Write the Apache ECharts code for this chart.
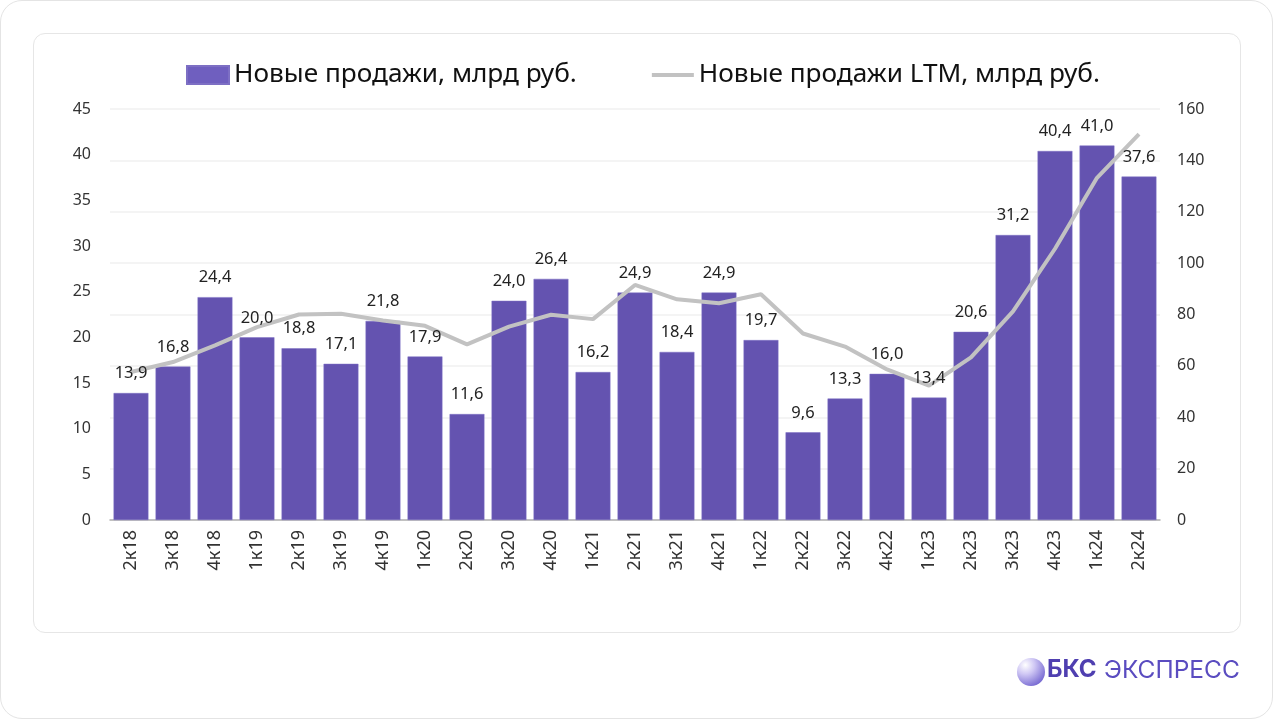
<!DOCTYPE html>
<html>
<head>
<meta charset="utf-8">
<script src="https://cdn.jsdelivr.net/npm/echarts@6/dist/echarts.min.js"></script>
<style>
  html,body{margin:0;padding:0;background:#fff;}
  #outer{position:absolute;left:0;top:0;width:1271px;height:717px;border:1px solid #e4e4e4;border-radius:22px;background:#fff;}
  #card{position:absolute;left:33px;top:33px;width:1206px;height:598px;border:1px solid #e6e6e6;border-radius:12px;background:#fff;}
  #chart{position:absolute;left:0;top:0;width:1273px;height:719px;}
</style>
</head>
<body>
<div id="outer"></div>
<div id="card"></div>
<div id="chart"></div>
<script>
const categories = ['2к18','3к18','4к18','1к19','2к19','3к19','4к19','1к20','2к20','3к20','4к20','1к21','2к21','3к21','4к21','1к22','2к22','3к22','4к22','1к23','2к23','3к23','4к23','1к24','2к24'];
const newSales = [13.9,16.8,24.4,20.0,18.8,17.1,21.8,17.9,11.6,24.0,26.4,16.2,24.9,18.4,24.9,19.7,9.6,13.3,16.0,13.4,20.6,31.2,40.4,41.0,37.6];
const newSalesLTM = [57.6,61.5,68.0,75.1,80.0,80.3,77.7,75.6,68.4,75.3,79.9,78.2,91.5,85.9,84.4,87.9,72.6,67.5,58.6,52.3,63.3,81.2,105.6,133.2,150.2];
const leftTicks = {min:0, max:45, interval:5};
const rightTicks = {min:0, max:160, interval:20};

const font = '"Noto Sans", "Open Sans", sans-serif';
const chart = echarts.init(document.getElementById('chart'), null, {renderer:'canvas'});
chart.setOption({
  animation:false,
  backgroundColor:'transparent',
  textStyle:{fontFamily:font},
  legend:{
    top:57, left:181,
    itemGap:75,
    textStyle:{fontSize:26.2, color:'#111', fontFamily:font},
    data:[
      {name:'Новые продажи, млрд руб.', icon:'rect', itemStyle:{color:'#6f5fbf'}},
      {name:'Новые продажи LTM, млрд руб.', icon:'path://M0,0 L40,0 L40,4 L0,4 Z', itemStyle:{color:'#c2c2c2'}}
    ],
    itemWidth:42, itemHeight:18
  },
  grid:{left:110, right:113, top:109, bottom:199, containLabel:false},
  xAxis:{
    type:'category', data:categories,
    axisLine:{lineStyle:{color:'#b0b0b0', width:1.5}},
    axisTick:{show:false},
    axisLabel:{rotate:90, fontSize:18, color:'#333', margin:10, fontFamily:font}
  },
  yAxis:[
    {type:'value', min:leftTicks.min, max:leftTicks.max, interval:leftTicks.interval,
     splitLine:{show:false}, axisLine:{show:false}, axisTick:{show:false},
     axisLabel:{fontSize:16, color:'#333', margin:19, fontFamily:font}},
    {type:'value', min:rightTicks.min, max:rightTicks.max, interval:rightTicks.interval,
     splitLine:{show:true, lineStyle:{color:'#f0f0f0', width:1.5}}, axisLine:{show:false}, axisTick:{show:false},
     axisLabel:{fontSize:16, color:'#333', margin:17, fontFamily:font}}
  ],
  series:[
    {name:'Новые продажи, млрд руб.', type:'bar', data:newSales, yAxisIndex:0,
     barCategoryGap:'17%', z:2,
     itemStyle:{color:'#6453b0', borderColor:'#7d6fc4', borderWidth:0.5}},
    {name:'Новые продажи LTM, млрд руб.', type:'line', data:newSalesLTM, yAxisIndex:1,
     symbol:'none', lineStyle:{color:'#c2c2c2', width:4}, itemStyle:{color:'#c2c2c2'}, z:3},
    {name:'labels', type:'bar', data:newSales, yAxisIndex:0,
     barCategoryGap:'17%', barGap:'-100%', z:5, silent:true,
     itemStyle:{color:'rgba(0,0,0,0)'},
     label:{show:true, position:'top', distance:11, fontSize:16.5, color:'#222', fontFamily:font,
       formatter:p=>p.value.toFixed(1).replace('.',',')}}
  ],
  graphic:[
    {type:'circle', shape:{cx:1031, cy:672, r:14}, style:{
      fill:new echarts.graphic.RadialGradient(0.3,0.25,0.95,[{offset:0,color:'#ffffff'},{offset:0.35,color:'#cfc7f4'},{offset:1,color:'#5e4fc8'}])}},
    {type:'text', left:1047, top:658, style:{text:'БКС', font:'bold 24px "Inter", "Noto Sans", sans-serif', fill:'#4f3fb0'}},
    {type:'text', left:1104, top:658, style:{text:'ЭКСПРЕСС', font:'24.5px "Inter", "Noto Sans", sans-serif', fill:'#5a4cc0'}}
  ]
});
</script>
</body>
</html>
